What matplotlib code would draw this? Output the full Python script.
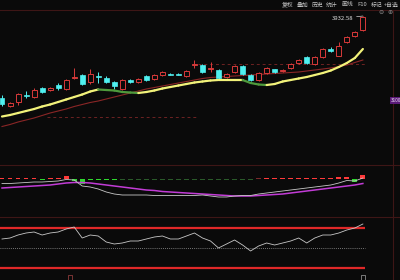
import numpy as np
import matplotlib
matplotlib.use('Agg')
from matplotlib import pyplot as plt
from matplotlib.lines import Line2D

plt.rcParams['font.family'] = ['Noto Sans CJK SC', 'DejaVu Sans']

# daily candles
opens = [3113, 3033, 3073, 3143, 3123, 3213, 3193, 3243, 3203, 3313,
         3343, 3273, 3333, 3313, 3273, 3203, 3293, 3273, 3333, 3303,
         3343, 3358, 3358, 3333, 3443, 3443, 3403, 3393, 3323, 3373,
         3433, 3343, 3293, 3363, 3403, 3383, 3413, 3463, 3523, 3453,
         3523, 3603, 3533, 3673, 3733, 3793]
closes = [3053, 3063, 3153, 3133, 3193, 3173, 3213, 3213, 3293, 3323,
          3253, 3353, 3323, 3273, 3233, 3293, 3273, 3303, 3293, 3343,
          3373, 3348, 3348, 3383, 3453, 3373, 3413, 3313, 3353, 3433,
          3353, 3293, 3363, 3413, 3373, 3393, 3453, 3493, 3463, 3523,
          3603, 3583, 3633, 3723, 3773, 3923]
highs = [3143, 3073, 3163, 3183, 3213, 3223, 3223, 3263, 3303, 3413,
         3353, 3403, 3373, 3333, 3283, 3303, 3303, 3313, 3343, 3353,
         3383, 3363, 3363, 3393, 3493, 3453, 3473, 3403, 3363, 3443,
         3443, 3353, 3373, 3423, 3408, 3403, 3463, 3503, 3533, 3533,
         3613, 3623, 3673, 3733, 3783, 3932.58]
lows = [3033, 3023, 3043, 3113, 3113, 3163, 3183, 3193, 3193, 3303,
        3243, 3253, 3263, 3263, 3203, 3193, 3263, 3263, 3283, 3293,
        3333, 3343, 3343, 3323, 3413, 3363, 3373, 3293, 3313, 3363,
        3343, 3283, 3283, 3353, 3368, 3373, 3403, 3453, 3453, 3443,
        3513, 3573, 3533, 3663, 3723, 3783]

ma_fast = [2928, 2943, 2963, 2983, 3003, 3028, 3048, 3073, 3098, 3123,
           3148, 3178, 3198, 3193, 3188, 3173, 3168, 3163, 3173, 3188,
           3208, 3223, 3238, 3253, 3268, 3278, 3288, 3293, 3293, 3293,
           3293, 3263, 3248, 3243, 3253, 3278, 3293, 3308, 3323, 3343,
           3363, 3388, 3423, 3463, 3513, 3603]
ma_slow = [2828, 2848, 2873, 2893, 2913, 2938, 2963, 2983, 3003, 3028,
           3048, 3068, 3083, 3103, 3123, 3143, 3163, 3183, 3203, 3218,
           3233, 3248, 3263, 3278, 3293, 3308, 3318, 3323, 3328, 3333,
           3338, 3343, 3348, 3353, 3358, 3363, 3368, 3373, 3383, 3393,
           3403, 3413, 3428, 3443, 3468, 3493]
levels = [2923, 3453]
level_spans = [(5.6, 24.5), (24.5, 45.5)]
peak_label = '3932.58'
side_label = '3100'

# middle panel
dif = [-4.5, -4.5, -4, -3.5, -3, -3, -2.5, -2, -0.5, -1,
       -7, -8, -10, -13, -15, -16, -16, -16, -16, -16.5,
       -16.5, -16.5, -16.5, -16.5, -16.5, -16, -17, -18, -18, -17,
       -16.5, -16.5, -15, -14, -13, -12, -11, -10, -9, -8,
       -7, -6, -4, -1.5, -2, 1]
dea = [-9, -8.5, -8, -7.5, -7, -6.5, -6, -5, -4, -3.5,
       -3.5, -4, -5, -6, -7, -8, -9, -10, -11, -11.5,
       -12.5, -13, -13.5, -14, -14.5, -15, -15.5, -16, -16.5, -17,
       -17, -17, -16.5, -16, -15.5, -15, -14, -13, -12, -11,
       -10, -9, -8, -7, -6, -4.5]
hist = [0.8, 1, 1, 1, 1, -1, 1, 1, 3.5, -1.5,
        -4.5, -1, -1.2, -1.2, -1.2, -0.6, -0.6, -0.6, -0.6, -0.6,
        -0.6, -0.6, -0.6, -0.6, -0.6, -0.6, -0.6, -0.6, -0.6, -0.6,
        -0.6, -0.6, 0.6, 1, 0.8, 1, 1, 1, 1, 1,
        1, 1, 2, 2, -3, 4.5]

# bottom oscillator
osc = [63.5, 65, 69.5, 72.5, 74, 69.5, 72.5, 74, 78.5, 81.5,
       65, 69.5, 68, 59, 56, 57.5, 60.5, 60.5, 63.5, 66.5,
       68, 63.5, 63.5, 68, 72.5, 65, 60.5, 50, 56, 62,
       54.5, 45.5, 53, 57.5, 54.5, 57.5, 60.5, 65, 57.5, 65,
       69.5, 69.5, 72.5, 77, 80, 86]
osc_levels = [80, 50, 20]

tools = ['复权', '叠加', '历史', '统计', '画线', 'F10', '标记', '+自选']
tool_x = [282, 297, 312, 326, 342, 357, 371, 384]

bg = '#0a0a0a'
red = '#d83a3a'
cyan = '#4ff0f0'
sep = '#3e1616'

fig = plt.figure(figsize=(4, 2.8), dpi=100, facecolor=bg)
W, H = 400.0, 280.0


def panel(top, bottom):
    a = fig.add_axes([0, 1 - bottom / H, 1, (bottom - top) / H])
    a.set_facecolor(bg)
    a.set_xlim(-0.25, 49.63)
    a.axis('off')
    return a


ax = panel(10, 165)
ax2 = panel(165, 217)
ax3 = panel(217, 280)

# main panel
ax.set_ylim(2443, 3993)
idx = np.arange(len(opens))
o = np.array(opens, dtype=float)
c = np.array(closes, dtype=float)
up = c >= o
ax.vlines(idx, lows, highs, colors=np.where(up, red, cyan), lw=0.7, zorder=2)
body_lo = np.minimum(o, c)
body_h = np.maximum(np.abs(c - o), 3)
ax.bar(idx[up], body_h[up], bottom=body_lo[up], width=0.62,
       facecolor=bg, edgecolor=red, lw=0.7, zorder=3)
ax.bar(idx[~up], body_h[~up], bottom=body_lo[~up], width=0.62,
       color=cyan, edgecolor=cyan, lw=0.5, zorder=3)

ax.plot(idx, ma_slow, color='#8a2626', lw=0.8, zorder=1)
for i in range(len(ma_fast) - 1):
    col = '#f2f27a' if ma_fast[i + 1] >= ma_fast[i] else '#4e9a3c'
    ax.plot([i, i + 1], ma_fast[i:i + 2], color=col, lw=1.6,
            solid_capstyle='round', zorder=4)
for lv, (x0, x1) in zip(levels, level_spans):
    ax.hlines(lv, x0, x1, colors='#6e2222', lw=0.7, linestyles=(0, (3, 3)), zorder=1)

ax.annotate(peak_label, xy=(idx[-1], highs[-1]), xytext=(-7, -1.5),
            textcoords='offset points', ha='right', va='center',
            fontsize=4.3, color='#e0e0e0',
            arrowprops=dict(arrowstyle='-', color='#d0d0d0', lw=0.5,
                            shrinkA=0.5, shrinkB=0))

# middle panel
ax2.set_ylim(-38, 14)
h = np.array(hist)
hcol = [('#ff3a3a' if v > 0 else '#2ed82e') if abs(v) >= 0.8 else
        ('#7a2a2a' if v > 0 else '#2a5a2a') for v in h]
ax2.bar(idx, h, width=0.6, color=hcol, zorder=2)
ax2.plot(idx, dea, color='#c23cd6', lw=1.1, zorder=3)
ax2.plot(idx, dif, color='#c8c8c8', lw=0.6, zorder=4)

# bottom panel
ax3.set_ylim(2, 96.5)
ax3.hlines([osc_levels[0], osc_levels[2]], -0.25, 45.3, colors='#e02828', lw=1.6)
ax3.hlines(osc_levels[1], -0.25, 45.3, colors='#9a9a9a', lw=0.6, linestyles=(0, (1, 1.5)))
ax3.plot(idx, osc, color='#c8c8c8', lw=0.6, zorder=3)
ax3.scatter([8.5], [6], marker='s', s=10, facecolor='none', edgecolor='#8a3a3a', lw=0.6)
ax3.scatter([45], [6], marker='s', s=10, facecolor='none', edgecolor='#8a8a8a', lw=0.6)

# frame lines
for y in (10, 165, 217):
    fig.add_artist(Line2D([0, 1], [1 - y / H] * 2, color=sep, lw=0.8))
fig.add_artist(Line2D([393 / W] * 2, [0, 1 - 10 / H], color=sep, lw=0.8))

# toolbar and side label
for t, x in zip(tools, tool_x):
    fig.text(x / W, 1 - 5 / H, t, fontsize=4.2, color='#c4c4c4', ha='left', va='center')
fig.text(378 / W, 1 - 12.5 / H, '⊖', fontsize=4.5, color='#8a8a8a',
         ha='left', va='center', family='DejaVu Sans')
fig.text(387 / W, 1 - 12.5 / H, '⊕', fontsize=4.5, color='#8a8a8a',
         ha='left', va='center', family='DejaVu Sans')
fig.text(390.5 / W, 1 - 100.5 / H, side_label, fontsize=3.4, color='#e8d8f0',
         ha='left', va='center',
         bbox=dict(boxstyle='square,pad=0.2', facecolor='#5a1a78', edgecolor='none'))

fig.savefig('out.png', dpi=100, facecolor=bg)
